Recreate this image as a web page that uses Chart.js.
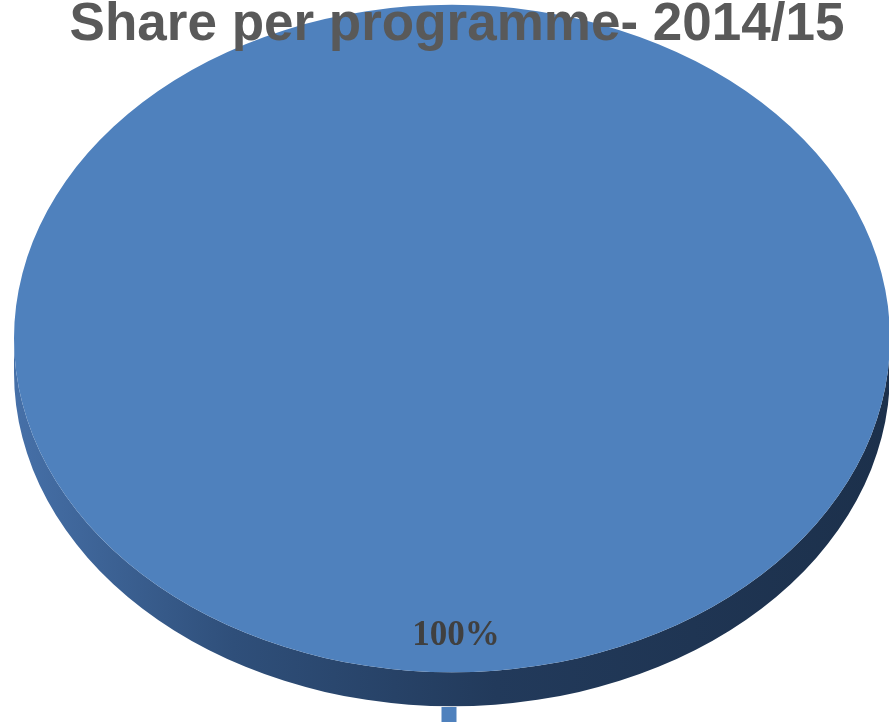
<!DOCTYPE html>
<html>
<head>
<meta charset="utf-8">
<title>Share per programme- 2014/15</title>
<script src="https://cdn.jsdelivr.net/npm/chart.js@4.4.1/dist/chart.umd.min.js"></script>
<style>
  html, body { margin: 0; padding: 0; background: #fff; overflow: hidden; }
  #pie { display: block; }
</style>
</head>
<body>
<canvas id="pie" width="904" height="740"></canvas>
<script>
// Chart data
const chartTitle = 'Share per programme- 2014/15';
const programmes = [''];
const shares = [100];
const sliceColors = ['#4F81BD'];

const TILT = 0.762;  // how much the pie top is squashed
const DEPTH = 34;    // thickness of the pie edge (px)

// fake 3D: edge drawn under the slices, then the slices get squashed into an ellipse
const pie3d = {
  id: 'pie3d',
  beforeDatasetsDraw(chart) {
    const ctx = chart.ctx;
    const arcs = chart.getDatasetMeta(0).data;
    const cx = arcs[0].x, cy = arcs[0].y;
    const rx = arcs[0].outerRadius, ry = rx * TILT;

    const edge = ctx.createLinearGradient(cx - rx, 0, cx + rx, 0);
    edge.addColorStop(0, '#4670A8');
    edge.addColorStop(0.25, '#2F4F7A');
    edge.addColorStop(0.55, '#223A5B');
    edge.addColorStop(1, '#1C304B');

    ctx.save();
    ctx.beginPath();
    ctx.ellipse(cx, cy, rx, ry, 0, 0, Math.PI);
    ctx.ellipse(cx, cy + DEPTH, rx, ry, 0, Math.PI, 0, true);
    ctx.closePath();
    ctx.fillStyle = edge;
    ctx.fill();
    ctx.restore();

    // squash the top face
    ctx.save();
    ctx.translate(cx, cy);
    ctx.scale(1, TILT);
    ctx.translate(-cx, -cy);
  },
  afterDatasetsDraw(chart) {
    const ctx = chart.ctx;
    ctx.restore();

    // percentage labels
    const meta = chart.getDatasetMeta(0);
    const total = shares.reduce((a, b) => a + b, 0);
    ctx.save();
    ctx.font = 'bold 35px "Liberation Serif", "Times New Roman", serif';
    ctx.fillStyle = '#404040';
    ctx.textAlign = 'center';
    ctx.textBaseline = 'middle';
    meta.data.forEach((arc, i) => {
      const mid = (arc.startAngle + arc.endAngle) / 2;
      const r = arc.outerRadius * 0.89;
      const x = arc.x + Math.cos(mid) * r + 4;
      const y = arc.y + Math.sin(mid) * r * TILT;
      ctx.fillText(Math.round(shares[i] / total * 100) + '%', x, y);
    });
    ctx.restore();
  },
  afterDraw(chart) {
    // title sits on top of the pie
    const ctx = chart.ctx;
    ctx.save();
    ctx.font = 'bold 53px "Liberation Sans", Arial, sans-serif';
    ctx.fillStyle = '#595959';
    ctx.textAlign = 'center';
    ctx.textBaseline = 'alphabetic';
    ctx.fillText(chartTitle, 457, 40);
    ctx.restore();
  }
};

const ctx = document.getElementById('pie').getContext('2d');

const chart = new Chart(ctx, {
  type: 'pie',
  data: {
    labels: programmes,
    datasets: [{
      data: shares,
      backgroundColor: sliceColors,
      borderWidth: 0
    }]
  },
  options: {
    responsive: false,
    animation: false,
    radius: 438,
    layout: { padding: { top: 0, bottom: 8, left: 0, right: 0 } },
    plugins: {
      title: { display: false },
      tooltip: { enabled: false },
      legend: {
        position: 'bottom',
        labels: {
          boxWidth: 15,
          boxHeight: 15,
          padding: 30,
          font: { size: 12, family: 'Liberation Sans' },
          color: '#595959'
        }
      }
    }
  },
  plugins: [pie3d]
});
</script>
</body>
</html>
